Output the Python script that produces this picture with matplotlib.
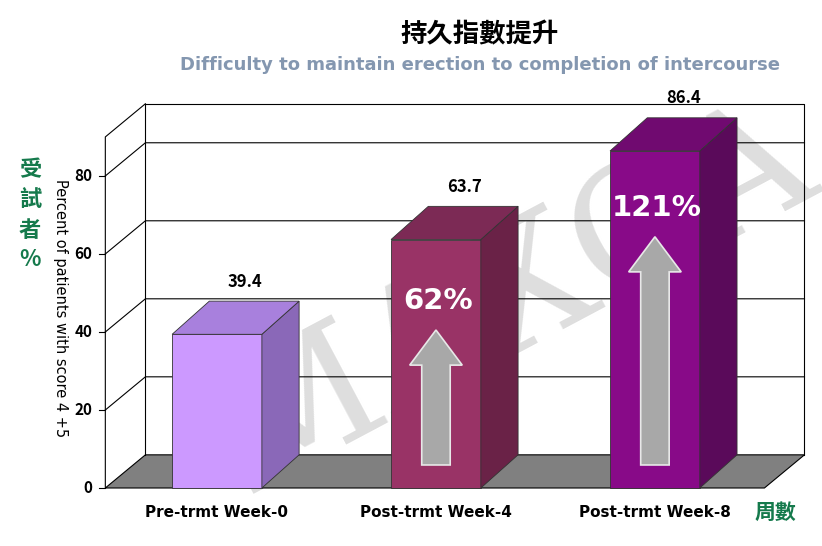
import matplotlib.pyplot as plt
from matplotlib.patches import Polygon, FancyArrow

plt.rcParams['font.family'] = ['Noto Sans CJK TC', 'DejaVu Sans']

categories = ['Pre-trmt Week-0', 'Post-trmt Week-4', 'Post-trmt Week-8']
values = [39.4, 63.7, 86.4]
gains = [None, '62%', '121%']
arrow_tops = [None, 40.5, 64.4]
yticks = [0, 20, 40, 60, 80]
front_c = ['#cc99ff', '#993366', '#880a88']
side_c = ['#8a68b8', '#6a2247', '#5a0a5a']
top_c = ['#a880dd', '#7c2a55', '#700a70']

fig = plt.figure(figsize=(8.22, 5.46), dpi=100)
ax = fig.add_axes([0, 0, 1, 1])
ax.set_xlim(-0.991, 2.763)
ax.set_ylim(-14.87, 125.1)
ax.axis('off')

dx, dy = 0.183, 8.5      # wall depth
bw, bdx, bdy = 0.41, 0.17, 8.5  # bar width, bar depth
x0, x1, top = -0.51, 2.5, 90

# watermark
ax.text(1.35, 48, 'MAXCA', fontsize=120, family='DejaVu Serif', color='#c8c8c8',
        rotation=28, ha='center', va='center', alpha=0.6, zorder=0, clip_on=True)

# floor
ax.add_patch(Polygon([(x0, 0), (x1, 0), (x1 + dx, dy), (x0 + dx, dy)],
                     closed=True, fc='#808080', ec='black', lw=0.8, zorder=1))
# walls
ax.plot([x0 + dx, x0 + dx, x1 + dx, x1 + dx], [dy, top + dy, top + dy, dy], color='black', lw=0.8, zorder=1)
ax.plot([x0, x0, x0 + dx], [0, top, top + dy], color='black', lw=0.8, zorder=1)
for v in yticks[1:]:
    ax.plot([x0, x0 + dx, x1 + dx], [v, v + dy, v + dy], color='black', lw=0.8, zorder=1)
for v in yticks:
    ax.plot([x0 - 0.03, x0], [v, v], color='black', lw=0.8)
    ax.text(x0 - 0.06, v, str(v), ha='right', va='center', fontsize=11, fontweight='bold')

# bars
for i, v in enumerate(values):
    l, r = i - bw / 2, i + bw / 2
    ax.add_patch(Polygon([(l, 0), (r, 0), (r, v), (l, v)], fc=front_c[i], ec='#333333', lw=0.6, zorder=3))
    ax.add_patch(Polygon([(r, 0), (r + bdx, bdy), (r + bdx, v + bdy), (r, v)], fc=side_c[i], ec='#333333', lw=0.6, zorder=3))
    ax.add_patch(Polygon([(l, v), (r, v), (r + bdx, v + bdy), (l + bdx, v + bdy)], fc=top_c[i], ec='#333333', lw=0.6, zorder=3))
    ax.text(i + 0.13, v + bdy + 5, f'{v}', ha='center', va='center', fontsize=12, fontweight='bold', zorder=5)
    ax.text(i, -6.3, categories[i], ha='center', va='center', fontsize=11, fontweight='bold',
            family='DejaVu Sans')
    if gains[i]:
        ax.add_patch(FancyArrow(i, 5.9, 0, arrow_tops[i] - 5.9, width=0.13, head_width=0.24,
                                head_length=9, length_includes_head=True,
                                fc='#a8a8a8', ec='#e8e8e8', lw=1.2, zorder=4))
        ax.text(i + 0.01, arrow_tops[i] + 7.5, gains[i], ha='center', va='center', fontsize=21,
                fontweight='bold', color='white', zorder=5, family='DejaVu Sans')

fig.text(480 / 822, 1 - 35 / 546, '持久指數提升', ha='center', va='center', fontsize=19, fontweight='bold')
fig.text(480 / 822, 1 - 65 / 546, 'Difficulty to maintain erection to completion of intercourse',
         ha='center', va='center', fontsize=13, fontweight='bold', color='#8497b0', family='DejaVu Sans')
for k, ch in enumerate(['受', '試', '者', '%']):
    fig.text(30 / 822, 1 - (170 + k * 30) / 546, ch, ha='center', va='center', fontsize=16,
             fontweight='bold', color='#157a4c')
fig.text(60 / 822, 1 - 308 / 546, 'Percent of patients with score 4 +5', rotation=-90,
         ha='center', va='center', fontsize=10.5, family='DejaVu Sans')
fig.text(775 / 822, 1 - 512 / 546, '周數', ha='center', va='center', fontsize=15,
         fontweight='bold', color='#157a4c')

fig.savefig('out.png', dpi=100)
